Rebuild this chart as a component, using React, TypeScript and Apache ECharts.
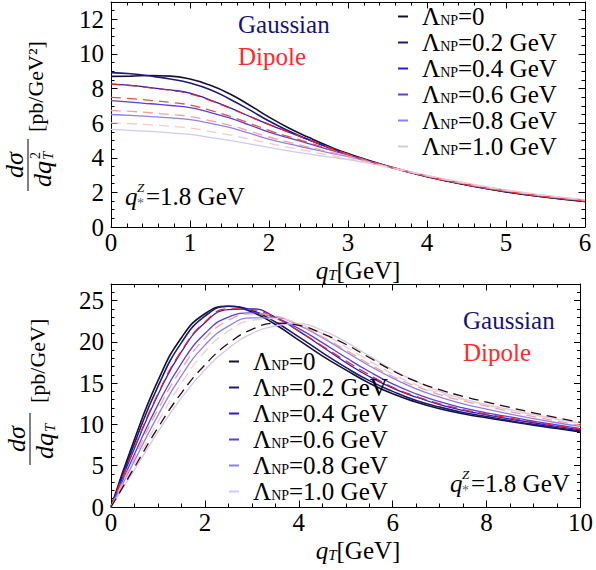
import { useEffect, useRef } from 'react';
import * as echarts from 'echarts';

const FONT = 'Liberation Serif';

// ---- legend / series identity ----
const LAMBDA_NAMES = ['L0', 'L0.2', 'L0.4', 'L0.6', 'L0.8', 'L1.0'];
const LAMBDA_TEXT = ['=0', '=0.2 GeV', '=0.4 GeV', '=0.6 GeV', '=0.8 GeV', '=1.0 GeV'];
const GAUSS_COLORS = ['#15122e', '#1b1b7c', '#2a1ad2', '#5a3ee6', '#8c80f4', '#cfc9f5'];
const DIPOLE_COLORS = ['#e8222a', '#f04a4a', '#f5a0a0', '#fac8c8'];
const DIPOLE_BOTTOM_COLORS = ['#e8222a', '#f5a0a0', '#fac8c8', '#2a0a0a'];

// ---- top panel: dσ/dq_T^2 ----
const QT_TOP = [0, 0.25, 0.5, 0.75, 1, 1.25, 1.5, 1.75, 2, 2.25, 2.5, 2.75, 3, 3.5, 4, 4.5, 5, 5.5, 6];
const TOP_G0 = [8.70, 8.72, 8.75, 8.72, 8.55, 8.20, 7.70, 7.05, 6.35, 5.72, 5.18, 4.68, 4.24, 3.52, 2.92, 2.43, 2.03, 1.72, 1.47];
const TOP_G02 = [8.92, 8.85, 8.72, 8.55, 8.32, 7.95, 7.40, 6.78, 6.12, 5.55, 5.05, 4.60, 4.20, 3.50, 2.91, 2.43, 2.04, 1.73, 1.48];
const TOP_G04 = [8.25, 8.18, 8.05, 7.92, 7.74, 7.35, 6.90, 6.40, 5.92, 5.48, 5.05, 4.62, 4.20, 3.50, 2.92, 2.45, 2.06, 1.75, 1.50];
const TOP_G06 = [7.30, 7.22, 7.12, 7.02, 6.90, 6.62, 6.30, 5.90, 5.48, 5.15, 4.82, 4.48, 4.16, 3.50, 2.94, 2.47, 2.08, 1.77, 1.52];
const TOP_G08 = [6.50, 6.45, 6.38, 6.30, 6.20, 6.00, 5.75, 5.42, 5.08, 4.80, 4.55, 4.30, 4.06, 3.50, 2.96, 2.50, 2.11, 1.80, 1.55];
const TOP_G10 = [5.64, 5.58, 5.52, 5.44, 5.35, 5.18, 5.00, 4.80, 4.60, 4.40, 4.22, 4.05, 3.90, 3.48, 2.98, 2.53, 2.14, 1.83, 1.58];
const TOP_D02 = [8.25, 8.17, 8.04, 7.90, 7.70, 7.32, 6.88, 6.40, 5.93, 5.48, 5.04, 4.62, 4.20, 3.50, 2.92, 2.45, 2.06, 1.75, 1.50];
const TOP_D04 = [7.49, 7.42, 7.32, 7.20, 7.05, 6.75, 6.40, 6.00, 5.58, 5.22, 4.88, 4.52, 4.18, 3.50, 2.93, 2.46, 2.07, 1.76, 1.51];
const TOP_D06 = [6.73, 6.68, 6.60, 6.50, 6.38, 6.15, 5.88, 5.55, 5.20, 4.90, 4.62, 4.35, 4.08, 3.49, 2.95, 2.49, 2.10, 1.79, 1.54];
const TOP_D08 = [6.02, 5.97, 5.90, 5.82, 5.72, 5.52, 5.32, 5.08, 4.84, 4.60, 4.38, 4.16, 3.95, 3.47, 2.97, 2.52, 2.13, 1.82, 1.57];

// ---- bottom panel: dσ/dq_T ----
const QT_BOT = [0, 0.5, 1, 1.5, 2, 2.5, 3, 3.5, 4, 4.5, 5, 5.5, 6, 6.5, 7, 7.5, 8, 8.5, 9, 9.5, 10];
const BOT_G0 = [0, 8.2, 15.3, 20.5, 23.4, 24.3, 23.6, 22.1, 20.2, 18.3, 16.6, 15.0, 13.7, 12.7, 11.9, 11.3, 10.8, 10.35, 9.9, 9.5, 9.1];
const BOT_G02 = [0, 7.7, 14.6, 19.9, 23.1, 24.3, 23.8, 22.4, 20.6, 18.7, 16.9, 15.3, 14.0, 12.9, 12.1, 11.45, 10.95, 10.45, 10.0, 9.6, 9.2];
const BOT_G04 = [0, 7.1, 13.6, 18.8, 22.3, 23.9, 24.0, 23.0, 21.3, 19.4, 17.5, 15.8, 14.4, 13.3, 12.4, 11.7, 11.15, 10.65, 10.2, 9.75, 9.35];
const BOT_G06 = [0, 6.4, 12.4, 17.4, 21.0, 23.0, 23.5, 22.9, 21.6, 19.9, 18.1, 16.4, 14.9, 13.7, 12.75, 12.0, 11.4, 10.9, 10.4, 9.95, 9.5];
const BOT_G08 = [0, 5.6, 11.1, 15.9, 19.6, 21.9, 22.9, 22.9, 22.0, 20.5, 18.8, 17.1, 15.6, 14.3, 13.3, 12.5, 11.85, 11.25, 10.7, 10.2, 9.75];
const BOT_G10 = [0, 4.5, 9.1, 13.2, 16.6, 19.2, 21.0, 21.9, 22.2, 21.4, 20.0, 18.3, 16.6, 15.2, 14.0, 13.1, 12.4, 11.8, 11.2, 10.65, 10.15];
const BOT_D02 = [0, 7.2, 13.7, 18.9, 22.4, 24.0, 23.9, 22.9, 21.3, 19.5, 17.7, 16.0, 14.5, 13.4, 12.5, 11.8, 11.25, 10.75, 10.3, 9.85, 9.45];
const BOT_D04 = [0, 6.0, 11.8, 16.7, 20.4, 22.6, 23.4, 23.1, 22.1, 20.6, 19.0, 17.3, 15.8, 14.6, 13.6, 12.85, 12.2, 11.55, 10.95, 10.4, 9.9];
const BOT_D06 = [0, 5.2, 10.3, 15.0, 18.8, 21.3, 22.6, 22.8, 22.2, 21.0, 19.4, 17.7, 16.1, 14.8, 13.8, 13.0, 12.35, 11.75, 11.15, 10.65, 10.15];
const BOT_D10 = [0, 4.8, 9.6, 13.8, 17.2, 19.8, 21.5, 22.25, 22.0, 21.0, 19.7, 18.1, 16.5, 15.2, 14.2, 13.4, 12.7, 12.05, 11.4, 10.8, 10.25];

const TOP_GAUSS = [TOP_G0, TOP_G02, TOP_G04, TOP_G06, TOP_G08, TOP_G10];
const TOP_DIPOLE = [TOP_D02, TOP_D04, TOP_D06, TOP_D08];
const BOT_GAUSS = [BOT_G0, BOT_G02, BOT_G04, BOT_G06, BOT_G08, BOT_G10];
const BOT_DIPOLE = [BOT_D02, BOT_D04, BOT_D06, BOT_D10];

const pairs = (xs: number[], ys: number[]) => xs.map((x, i) => [x, ys[i]]);

const axisBase = (gridIndex: number, max: number, interval: number, minorSplit: number, position: string, showLabel: boolean, labelMax?: number) => ({
  type: 'value',
  gridIndex,
  position,
  min: 0,
  max,
  interval,
  axisLine: { show: true, onZero: false, lineStyle: { color: '#000', width: 1 } },
  axisTick: { show: true, inside: true, length: 6.5, lineStyle: { color: '#000', width: 1 } },
  minorTick: { show: true, splitNumber: minorSplit, length: 3.5, lineStyle: { color: '#000', width: 1 } },
  splitLine: { show: false },
  minorSplitLine: { show: false },
  axisLabel: {
    show: showLabel,
    fontFamily: FONT,
    fontSize: 25,
    color: '#000',
    margin: position === 'left' ? 7 : 3,
    formatter: (v: number) => (labelMax !== undefined && v > labelMax ? '' : String(v)),
  },
});

const legendFormatter = (name: string) => {
  const i = LAMBDA_NAMES.indexOf(name);
  return `{L|Λ}{s|NP}{a|${LAMBDA_TEXT[i]}}`;
};

const legendRich = {
  L: { fontFamily: FONT, fontSize: 25, lineHeight: 22, color: '#000' },
  a: { fontFamily: FONT, fontSize: 25, lineHeight: 22, color: '#000' },
  s: { fontFamily: FONT, fontSize: 14, lineHeight: 11, verticalAlign: 'bottom', color: '#000' },
};

const makeLegend = (left: number, top: number) => ({
  orient: 'vertical',
  left,
  top,
  padding: 0,
  itemGap: 1,
  itemWidth: 10,
  itemHeight: 2,
  icon: 'rect',
  data: LAMBDA_NAMES,
  formatter: legendFormatter,
  selectedMode: false,
  textStyle: { fontFamily: FONT, fontSize: 25, color: '#000', padding: [0, 0, 0, 9], rich: legendRich },
});

const qLabel = (x: number, y: number) => ({
  type: 'group',
  x,
  y,
  children: [
    { type: 'text', x: 0, y: 0, style: { text: 'q', fontFamily: FONT, fontStyle: 'italic', fontSize: 25, fill: '#000', verticalAlign: 'middle' } },
    { type: 'text', x: 12, y: -9, style: { text: 'Z', fontFamily: FONT, fontStyle: 'italic', fontSize: 13, fill: '#000', verticalAlign: 'middle' } },
    { type: 'text', x: 12, y: 7, style: { text: '*', fontFamily: FONT, fontSize: 14, fill: '#666', verticalAlign: 'middle' } },
    { type: 'text', x: 21, y: 0, style: { text: '=1.8 GeV', fontFamily: FONT, fontSize: 25, fill: '#000', verticalAlign: 'middle' } },
  ],
});

const xTitle = (x: number, y: number) => ({
  type: 'text',
  x,
  y,
  style: {
    text: '{q|q}{t|T}{g|[GeV]}',
    align: 'center',
    verticalAlign: 'middle',
    rich: {
      q: { fontFamily: FONT, fontStyle: 'italic', fontSize: 25, lineHeight: 24, fill: '#000' },
      t: { fontFamily: FONT, fontStyle: 'italic', fontSize: 15, lineHeight: 12, verticalAlign: 'bottom', fill: '#000' },
      g: { fontFamily: FONT, fontSize: 25, lineHeight: 24, fill: '#000' },
    },
  },
});

const yTitle = (x: number, y: number, sq: boolean, unit: string, unitStart: number) => {
  const kids: any[] = [
    { type: 'line', shape: { x1: -26, y1: 0, x2: 26, y2: 0 }, style: { stroke: '#000', lineWidth: 1 } },
    { type: 'text', x: 0, y: -1, style: { text: 'dσ', fontFamily: FONT, fontStyle: 'italic', fontSize: 26, fill: '#000', align: 'center', verticalAlign: 'bottom' } },
    { type: 'text', x: sq ? 4 : 6, y: 1, style: { text: 'dq', fontFamily: FONT, fontStyle: 'italic', fontSize: 26, fill: '#000', align: 'right', verticalAlign: 'top' } },
    { type: 'text', x: (sq ? 4 : 6) + 1, y: 12, style: { text: 'T', fontFamily: FONT, fontStyle: 'italic', fontSize: 15, fill: '#000', align: 'left', verticalAlign: 'top' } },
    { type: 'text', x: unitStart, y: 7, style: { text: unit, fontFamily: FONT, fontSize: 22, fill: '#000', align: 'left', verticalAlign: 'middle' } },
  ];
  if (sq) kids.push({ type: 'text', x: 6, y: 0, style: { text: '2', fontFamily: FONT, fontSize: 14, fill: '#000', align: 'left', verticalAlign: 'top' } });
  return { type: 'group', x, y, rotation: Math.PI / 2, children: kids };
};

export default function App() {
  const ref = useRef<HTMLDivElement>(null);
  useEffect(() => {
    if (!ref.current) return;
    const chart = echarts.init(ref.current, undefined, { renderer: 'svg' });

    const series: any[] = [];
    TOP_GAUSS.forEach((d, i) => series.push({
      name: LAMBDA_NAMES[i], type: 'line', xAxisIndex: 0, yAxisIndex: 0, data: pairs(QT_TOP, d), smooth: true,
      showSymbol: false, color: GAUSS_COLORS[i], lineStyle: { color: GAUSS_COLORS[i], width: i < 2 ? 1.6 : 1.3 },
    }));
    TOP_DIPOLE.forEach((d, i) => series.push({
      name: 'Dipole' + i, type: 'line', xAxisIndex: 0, yAxisIndex: 0, data: pairs(QT_TOP, d), smooth: true,
      showSymbol: false, color: DIPOLE_COLORS[i], lineStyle: { color: DIPOLE_COLORS[i], width: 1.3, type: [10, 6] },
    }));
    BOT_GAUSS.forEach((d, i) => series.push({
      name: LAMBDA_NAMES[i], type: 'line', xAxisIndex: 2, yAxisIndex: 2, data: pairs(QT_BOT, d), smooth: true,
      showSymbol: false, color: GAUSS_COLORS[i], lineStyle: { color: GAUSS_COLORS[i], width: i < 2 ? 1.6 : 1.3 },
    }));
    BOT_DIPOLE.forEach((d, i) => series.push({
      name: 'DipoleB' + i, type: 'line', xAxisIndex: 2, yAxisIndex: 2, data: pairs(QT_BOT, d), smooth: true,
      showSymbol: false, color: DIPOLE_BOTTOM_COLORS[i], lineStyle: { color: DIPOLE_BOTTOM_COLORS[i], width: 1.3, type: [10, 6] },
    }));

    chart.setOption({
      animation: false,
      backgroundColor: '#fff',
      grid: [
        { left: 111, top: 2, width: 474, height: 225 },
        { left: 111, top: 284, width: 474, height: 223 },
      ],
      xAxis: [
        axisBase(0, 6, 1, 5, 'bottom', true),
        axisBase(0, 6, 1, 5, 'top', false),
        axisBase(1, 10, 2, 4, 'bottom', true),
        axisBase(1, 10, 2, 4, 'top', false),
      ],
      yAxis: [
        axisBase(0, 13, 2, 4, 'left', true, 12),
        axisBase(0, 13, 2, 4, 'right', false),
        axisBase(1, 27, 5, 5, 'left', true, 25),
        axisBase(1, 27, 5, 5, 'right', false),
      ],
      legend: [makeLegend(398, 4), makeLegend(229, 349)],
      series,
      graphic: [
        { type: 'text', x: 238, y: 24, style: { text: 'Gaussian', fontFamily: FONT, fontSize: 25, fill: '#141478', verticalAlign: 'middle' } },
        { type: 'text', x: 238, y: 56, style: { text: 'Dipole', fontFamily: FONT, fontSize: 25, fill: '#ff2a2a', verticalAlign: 'middle' } },
        { type: 'text', x: 463, y: 320, style: { text: 'Gaussian', fontFamily: FONT, fontSize: 25, fill: '#141478', verticalAlign: 'middle' } },
        { type: 'text', x: 463, y: 352, style: { text: 'Dipole', fontFamily: FONT, fontSize: 25, fill: '#ff2a2a', verticalAlign: 'middle' } },
        qLabel(125, 196),
        qLabel(450, 483),
        xTitle(358, 270),
        xTitle(358, 550),
        yTitle(28, 165, true, '[pb/GeV²]', 33),
        yTitle(30, 439, false, '[pb/GeV]', 36),
      ],
    });
    return () => chart.dispose();
  }, []);
  return <div ref={ref} style={{ position: 'fixed', left: 0, top: 0, width: 596, height: 570 }} />;
}
